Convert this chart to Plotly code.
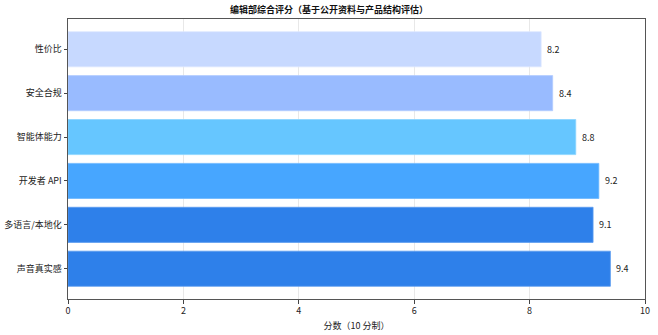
import plotly.graph_objects as go

categories = ["声音真实感", "多语言/本地化", "开发者 API", "智能体能力", "安全合规", "性价比"]
scores = [9.4, 9.1, 9.2, 8.8, 8.4, 8.2]
colors = ["#2E80EA", "#2E80EA", "#47A6FF", "#66C6FF", "#99BBFF", "#C7D9FF"]
edge_colors = ["#5A9BF0", "#5A9BF0", "#6CB8FF", "#8AD4FF", "#B3CCFF", "#DCE7FF"]
x_ticks = [0, 2, 4, 6, 8, 10]

title = "编辑部综合评分（基于公开资料与产品结构评估）"
x_title = "分数（10 分制）"

FONT = "Noto Sans CJK SC, DejaVu Sans, sans-serif"

fig = go.Figure()
fig.add_trace(go.Bar(
    y=categories, x=scores, orientation="h",
    marker=dict(color=colors, line=dict(color=edge_colors, width=0.8)),
    width=0.8, hoverinfo="skip",
))

for c, v in zip(categories, scores):
    fig.add_annotation(x=v, y=c, text=f"{v:.1f}", xanchor="left", yanchor="middle",
                       xshift=4, showarrow=False,
                       font=dict(family=FONT, size=9, color="#222222"))

fig.update_layout(
    width=658, height=335,
    margin=dict(l=68, r=13, t=19, b=36, autoexpand=False),
    paper_bgcolor="white", plot_bgcolor="white",
    showlegend=False,
    bargap=0.2,
    title=dict(text=f"<b>{title}</b>", x=0.5, xanchor="center", y=1 - 10/335, yanchor="middle",
               font=dict(family=FONT, size=9, color="#111111")),
    font=dict(family=FONT, size=9, color="#222222"),
)
fig.update_xaxes(
    range=[0, 10], tickvals=x_ticks, ticktext=[str(t) for t in x_ticks],
    showgrid=True, gridcolor="#E8E8E8", gridwidth=0.8,
    ticks="outside", ticklen=3.5, tickcolor="#444444", tickwidth=0.8,
    showline=True, linecolor="#555555", linewidth=1, mirror=True,
    zeroline=False, automargin=False,
    title=dict(text=x_title, font=dict(family=FONT, size=9, color="#222222"), standoff=6),
    tickfont=dict(family=FONT, size=9, color="#222222"),
)
fig.update_yaxes(
    type="category", categoryorder="array", categoryarray=categories,
    range=[-0.69, 5.69],
    showgrid=False,
    ticks="outside", ticklen=3.5, tickcolor="#444444", tickwidth=0.8,
    showline=True, linecolor="#555555", linewidth=1, mirror=True,
    zeroline=False, automargin=False,
    tickfont=dict(family=FONT, size=9, color="#222222"),
)

fig.write_html("out.html")
